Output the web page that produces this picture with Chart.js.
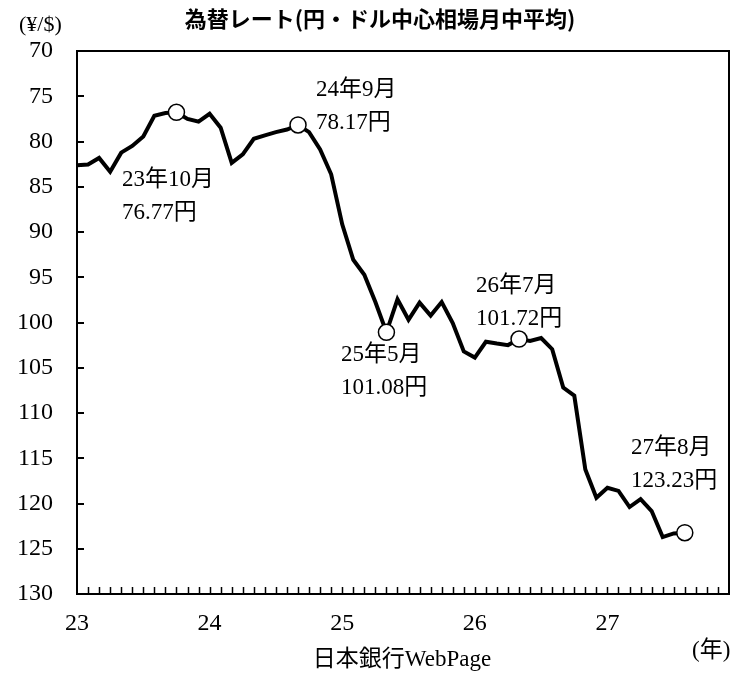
<!DOCTYPE html>
<html>
<head>
<meta charset="utf-8">
<script src="https://cdn.jsdelivr.net/npm/chart.js@4.4.1/dist/chart.umd.min.js"></script>
<style>
    body { margin: 0; background: #fff; }
    #wrap { width: 742px; height: 675px; }
</style>
</head>
<body>
<div id="wrap"><canvas id="rateChart" width="742" height="675"></canvas></div>
<script>
// 月中平均 (円/ドル) 23年1月〜27年8月
const rates = [
    82.63, 82.54, 81.82, 83.34, 81.23, 80.49, 79.44, 77.15, 76.85, 76.77, 77.50, 77.81,
    76.94, 78.47, 82.37, 81.42, 79.70, 79.32, 78.97, 78.68, 78.17, 78.97, 80.87, 83.62,
    89.15, 93.07, 94.73, 97.74, 101.08, 97.44, 99.70, 97.81, 99.23, 97.74, 100.06, 103.2,
    103.88, 102.13, 102.33, 102.50, 101.83, 102.04, 101.72, 102.95, 107.18, 108.09, 116.24, 119.37,
    118.26, 118.61, 120.39, 119.52, 120.83, 123.71, 123.31, 123.23
];
const yearLabels = ["23", "24", "25", "26", "27"];
const yearTicks = [0, 12, 24, 36, 48];
const markerIdx = [9, 20, 28, 40, 55];
const notes = [
    ["23年10月", "76.77円"],
    ["24年9月", "78.17円"],
    ["25年5月", "101.08円"],
    ["26年7月", "101.72円"],
    ["27年8月", "123.23円"]
];
const notePos = [[122, 180], [316, 90], [341, 355], [476, 286], [631, 448]];

const serif = '"Liberation Serif", "Noto Sans CJK JP"';

const lineData = rates.map((v, i) => ({ x: i, y: v }));
const markerData = markerIdx.map(i => ({ x: i, y: rates[i] }));

// 枠線・内向き目盛り・文字
const decor = {
    id: "decor",
    afterDraw(chart) {
        const ctx = chart.ctx;
        const a = chart.chartArea;
        const xs = chart.scales.x, ys = chart.scales.y;
        ctx.save();
        ctx.strokeStyle = "#000";
        ctx.lineWidth = 2;
        ctx.strokeRect(a.left, a.top, a.right - a.left, a.bottom - a.top);

        ctx.lineWidth = 2;
        for (let v = 75; v < 130; v += 5) {
            const y = Math.round(ys.getPixelForValue(v));
            ctx.beginPath();
            ctx.moveTo(a.left, y);
            ctx.lineTo(a.left + 7, y);
            ctx.stroke();
        }
        ctx.lineWidth = 1.5;
        for (let m = 1; m < 59; m++) {
            const x = Math.round(xs.getPixelForValue(m)) + 0.5;
            ctx.beginPath();
            ctx.moveTo(x, a.bottom);
            ctx.lineTo(x, a.bottom - 7);
            ctx.stroke();
        }

        ctx.fillStyle = "#000";
        ctx.textBaseline = "middle";
        ctx.textAlign = "center";
        ctx.font = 'bold 22px "Noto Sans CJK JP"';
        ctx.fillText("為替レート(円・ドル中心相場月中平均)", 380, 19);

        ctx.font = "22px " + serif;
        ctx.textAlign = "left";
        ctx.fillText("(¥/$)", 19, 25);

        ctx.font = "23px " + serif;
        notes.forEach((n, i) => {
            ctx.fillText(n[0], notePos[i][0], notePos[i][1]);
            ctx.fillText(n[1], notePos[i][0], notePos[i][1] + 33);
        });

        ctx.fillText("(年)", 692, 651);
        ctx.textAlign = "center";
        ctx.fillText("日本銀行WebPage", 402, 660);
        ctx.restore();
    }
};

new Chart(document.getElementById("rateChart"), {
    type: "line",
    data: {
        datasets: [
            {
                data: markerData,
                showLine: false,
                pointRadius: 8,
                pointBackgroundColor: "#fff",
                pointBorderColor: "#000",
                pointBorderWidth: 1.5
            },
            {
                data: lineData,
                borderColor: "#000",
                borderWidth: 4,
                pointRadius: 0,
                tension: 0,
                fill: false
            }
        ]
    },
    options: {
        responsive: false,
        animation: false,
        layout: { padding: { top: 51, right: 13, left: 0, bottom: 0 } },
        plugins: { legend: { display: false }, tooltip: { enabled: false }, title: { display: false } },
        scales: {
            x: {
                type: "linear",
                min: 0,
                max: 59,
                grid: { display: false, drawTicks: false },
                border: { display: false },
                afterBuildTicks: s => { s.ticks = yearTicks.map(v => ({ value: v })); },
                afterFit: s => { s.height = 81; },
                ticks: {
                    autoSkip: false,
                    maxRotation: 0,
                    padding: 15,
                    color: "#000",
                    font: { family: serif, size: 24 },
                    callback: v => yearLabels[yearTicks.indexOf(v)]
                }
            },
            y: {
                type: "linear",
                reverse: true,
                min: 70,
                max: 130,
                grid: { display: false, drawTicks: false },
                border: { display: false },
                afterFit: s => { s.width = 77; },
                ticks: {
                    stepSize: 5,
                    padding: 24,
                    color: "#000",
                    font: { family: serif, size: 24 }
                }
            }
        }
    },
    plugins: [decor]
});
</script>
</body>
</html>
